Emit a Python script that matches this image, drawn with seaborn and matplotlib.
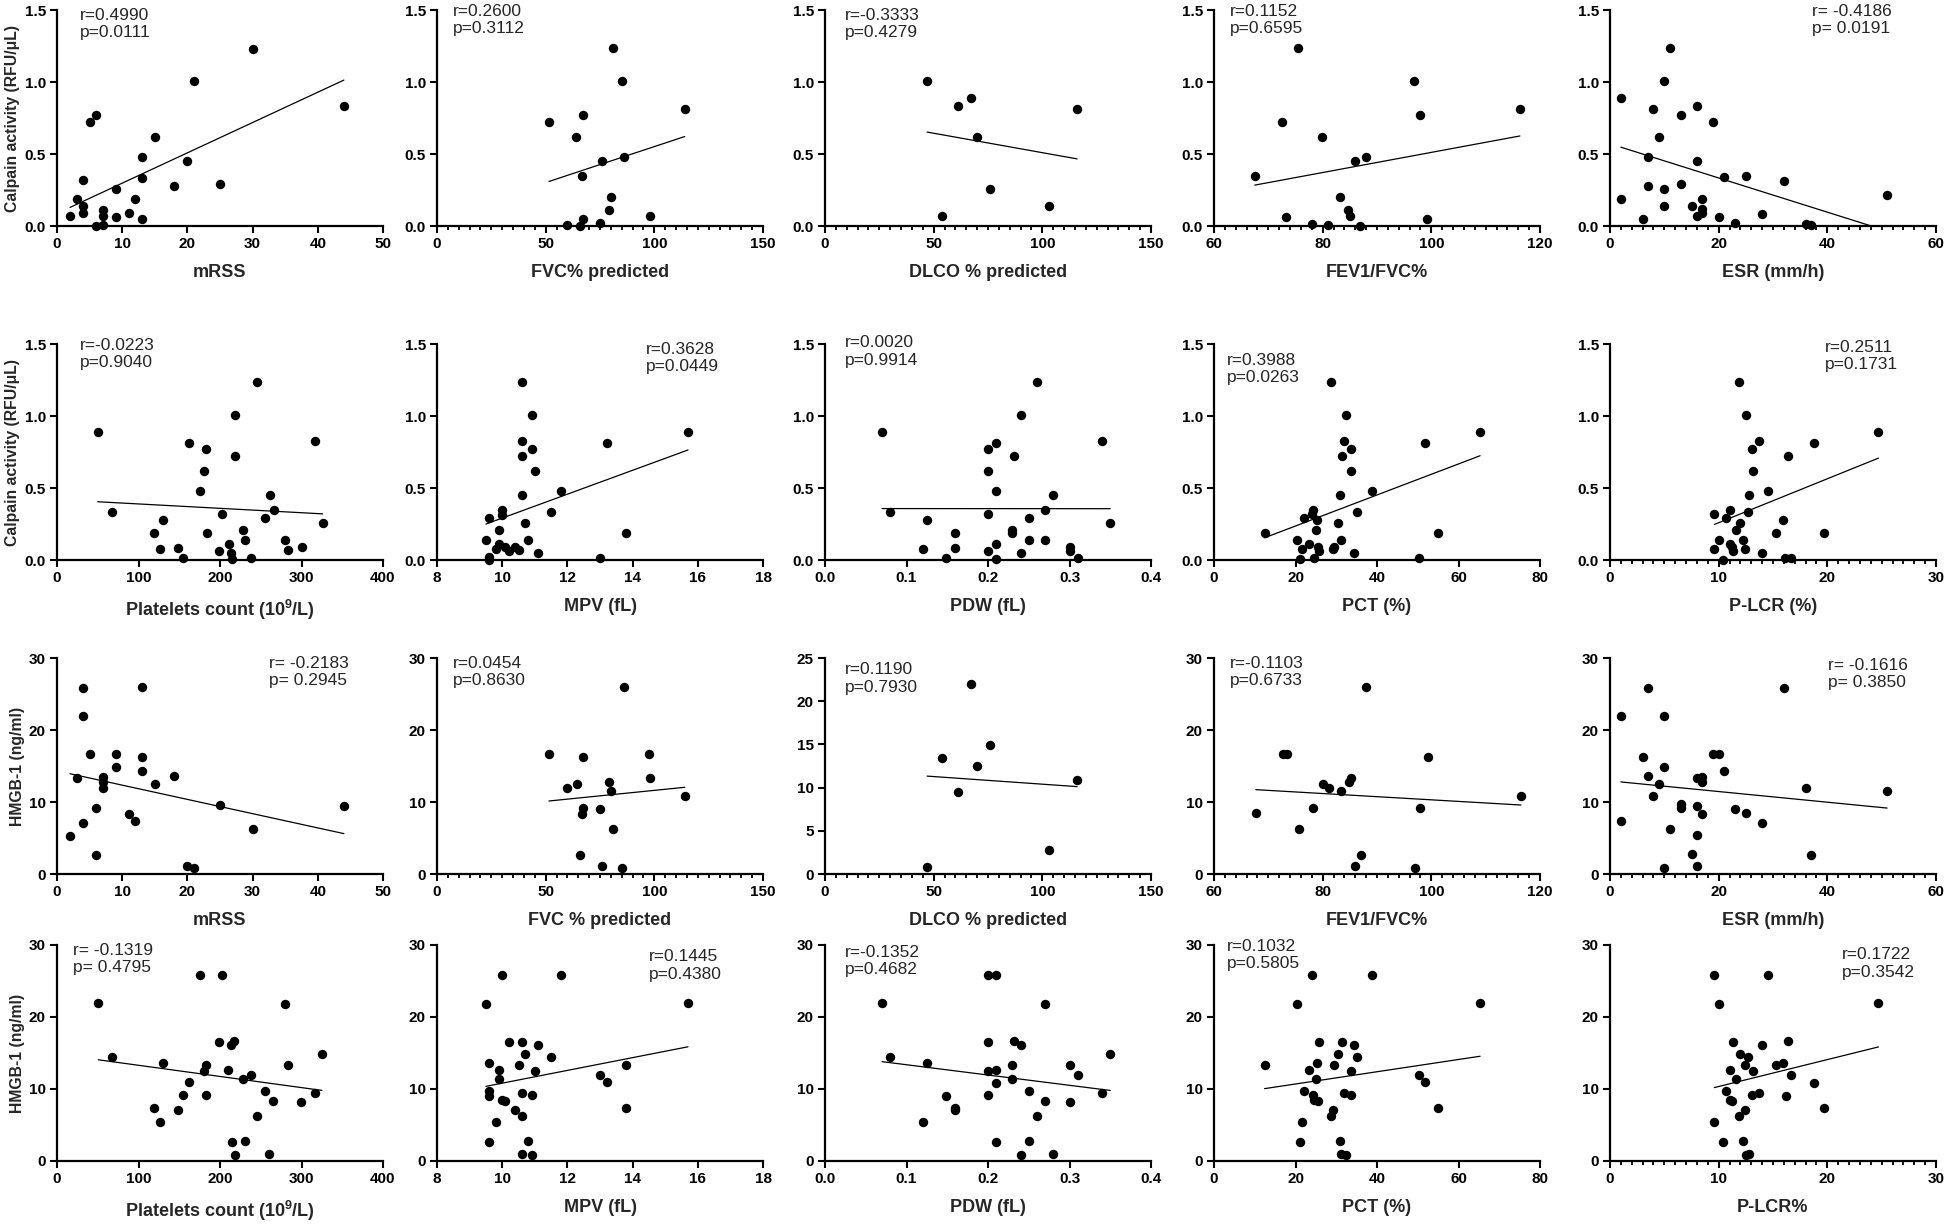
"""Calpain activity and HMGB-1 vs clinical / platelet parameters (4 x 5 scatter grid)."""
import matplotlib
matplotlib.use("Agg")
import matplotlib.pyplot as plt
import seaborn as sns
from matplotlib.ticker import MultipleLocator, FormatStrFormatter

# ---------------- data: row 1 (Calpain vs clinical) ----------------
mrss_calp_x = [2, 3, 4, 4, 4, 5, 6, 6, 7, 7, 7, 9, 9, 11, 12, 13, 13, 13, 15, 18, 20, 21, 25, 30, 44]
mrss_calp_y = [0.07, 0.19, 0.32, 0.14, 0.09, 0.72, 0.77, 0.00, 0.11, 0.07, 0.01, 0.26, 0.06, 0.09,
               0.19, 0.48, 0.33, 0.05, 0.62, 0.28, 0.45, 1.01, 0.29, 1.23, 0.83]

fvc_calp_x = [51.5, 64, 67, 66.5, 60, 66, 67, 75, 76, 79, 80, 81, 85, 86, 98, 114]
fvc_calp_y = [0.72, 0.62, 0.77, 0.35, 0.01, 0.00, 0.05, 0.02, 0.45, 0.11, 0.20, 1.235, 1.01, 0.48, 0.07, 0.81]

dlco_calp_x = [47, 54, 61, 67, 70, 76, 103, 116]
dlco_calp_y = [1.01, 0.07, 0.83, 0.89, 0.62, 0.26, 0.14, 0.81]

fev_calp_x = [67.5, 72.6, 73.3, 75.5, 78, 79.9, 81, 83.2, 84.7, 85.1, 85.9, 86.9, 87.9, 96.9, 98, 99.2, 116.3]
fev_calp_y = [0.345, 0.72, 0.06, 1.235, 0.015, 0.62, 0.01, 0.20, 0.11, 0.07, 0.45, 0.00, 0.48, 1.01, 0.77, 0.05, 0.81]

esr_calp_x = [2, 2, 6, 7, 7, 8, 9, 10, 10, 10, 11, 13, 13, 15, 16, 16, 16, 17, 17, 17,
              19, 20, 21, 23, 25, 28, 32, 36, 37, 51]
esr_calp_y = [0.89, 0.19, 0.05, 0.48, 0.28, 0.81, 0.62, 1.01, 0.255, 0.14, 1.235, 0.77, 0.29, 0.14,
              0.83, 0.45, 0.07, 0.185, 0.115, 0.09, 0.725, 0.06, 0.34, 0.02, 0.35, 0.085, 0.315,
              0.015, 0.005, 0.215]

# ---------------- data: row 2 (Calpain vs platelet indices) ----------------
plt_calp_x = [50, 68, 119, 126, 130, 149, 155, 162, 176, 180, 183, 184, 199, 203, 211, 214, 215,
              218, 218, 228, 231, 238, 245, 255, 261, 266, 280, 283, 300, 316, 326]
plt_calp_y = [0.89, 0.33, 0.19, 0.074, 0.28, 0.085, 0.016, 0.81, 0.48, 0.62, 0.77, 0.187, 0.062,
              0.32, 0.11, 0.05, 0.005, 1.01, 0.72, 0.21, 0.136, 0.012, 1.235, 0.29, 0.45, 0.346,
              0.136, 0.07, 0.09, 0.826, 0.256]

mpv_calp_x = [9.5, 9.6, 9.6, 9.6, 9.8, 9.9, 9.9, 10.0, 10.0, 10.1, 10.2, 10.4, 10.5, 10.6, 10.6,
              10.6, 10.6, 10.7, 10.8, 10.9, 10.9, 11.0, 11.1, 11.5, 11.8, 13.0, 13.2, 13.8, 15.7]
mpv_calp_y = [0.136, 0.29, 0.023, 0.0, 0.074, 0.21, 0.11, 0.35, 0.31, 0.088, 0.065, 0.088, 0.07,
              1.235, 0.826, 0.72, 0.45, 0.254, 0.136, 1.01, 0.77, 0.62, 0.046, 0.33, 0.48, 0.012,
              0.81, 0.187, 0.89]

pdw_calp_x = [0.07, 0.08, 0.12, 0.125, 0.148, 0.16, 0.16, 0.20, 0.20, 0.20, 0.20, 0.21, 0.21, 0.21,
              0.21, 0.23, 0.23, 0.232, 0.24, 0.24, 0.25, 0.25, 0.26, 0.27, 0.27, 0.28, 0.30, 0.30,
              0.31, 0.34, 0.35]
pdw_calp_y = [0.89, 0.33, 0.074, 0.28, 0.016, 0.19, 0.085, 0.77, 0.62, 0.32, 0.062, 0.81, 0.48,
              0.11, 0.005, 0.21, 0.187, 0.72, 1.01, 0.046, 0.29, 0.136, 1.235, 0.346, 0.136, 0.45,
              0.09, 0.065, 0.012, 0.826, 0.256]

pct_calp_x = [12.4, 20.3, 21.0, 21.5, 22.0, 23.4, 24.0, 24.3, 24.5, 25.0, 25.3, 25.4, 25.8, 28.8,
              29.2, 29.4, 30.4, 30.9, 31.2, 31.3, 31.9, 32.3, 33.5, 33.5, 34.4, 35.2, 38.8, 50.2,
              51.9, 55.0, 65.3]
pct_calp_y = [0.185, 0.136, 0.005, 0.074, 0.29, 0.11, 0.32, 0.35, 0.012, 0.21, 0.28, 0.088, 0.065,
              1.235, 0.074, 0.09, 0.256, 0.45, 0.136, 0.72, 0.826, 1.01, 0.77, 0.62, 0.046, 0.33,
              0.48, 0.012, 0.81, 0.19, 0.89]

plcr_calp_x = [9.6, 9.6, 10.0, 10.4, 10.7, 11.0, 11.0, 11.2, 11.3, 11.6, 11.9, 12.0, 12.2, 12.4,
               12.5, 12.7, 12.8, 13.1, 13.2, 13.7, 14.0, 14.5, 15.3, 15.9, 16.1, 16.4, 16.7, 18.8,
               19.7, 24.7]
plcr_calp_y = [0.316, 0.074, 0.136, 0.0, 0.29, 0.346, 0.11, 0.09, 0.065, 0.21, 1.235, 0.254, 0.136,
               0.074, 1.01, 0.33, 0.45, 0.77, 0.62, 0.826, 0.046, 0.48, 0.187, 0.28, 0.016, 0.72,
               0.012, 0.81, 0.19, 0.89]

# ---------------- data: row 3 (HMGB-1 vs clinical) ----------------
mrss_hmgb_x = [2, 3, 4, 4, 4, 5, 6, 6, 7, 7, 7, 9, 9, 11, 12, 13, 13, 13, 15, 18, 20, 21, 25, 30, 44]
mrss_hmgb_y = [5.3, 13.3, 25.8, 21.9, 7.1, 16.6, 9.2, 2.6, 13.5, 12.8, 11.9, 16.6, 14.9, 8.35, 7.3,
               26.0, 16.2, 14.35, 12.5, 13.6, 1.06, 0.83, 9.6, 6.3, 9.46]

fvc_hmgb_x = [51.5, 60, 64.2, 66, 66.5, 67, 67.2, 75.1, 76, 79.3, 80, 81, 85, 86, 97.6, 98, 114]
fvc_hmgb_y = [16.6, 11.9, 12.55, 2.6, 8.4, 16.2, 9.2, 9.05, 1.06, 12.8, 11.5, 6.3, 0.83, 26.0,
              16.6, 13.3, 10.85]

dlco_hmgb_x = [47, 54, 61, 67, 70, 76, 103, 116]
dlco_hmgb_y = [0.8, 13.4, 9.5, 22.0, 12.5, 14.9, 2.8, 10.9]

fev_hmgb_x = [67.7, 72.7, 73.4, 75.6, 78.2, 80, 81.1, 83.3, 84.8, 85.3, 86, 87, 88, 97, 98, 99.3, 116.5]
fev_hmgb_y = [8.45, 16.6, 16.6, 6.3, 9.1, 12.55, 11.9, 11.5, 12.8, 13.3, 1.06, 2.6, 26.0, 0.83,
              9.2, 16.2, 10.9]

esr_hmgb_x = [2, 2, 6, 7, 7, 8, 9, 10, 10, 10, 11, 13, 13, 15, 16, 16, 16, 16, 17, 17, 17,
              19, 20, 21, 23, 25, 28, 32, 36, 37, 51]
esr_hmgb_y = [22.0, 7.3, 16.2, 25.9, 13.6, 10.9, 12.55, 21.9, 14.9, 0.8, 6.3, 9.7, 9.2, 2.8, 13.3,
              9.46, 5.35, 1.06, 13.5, 12.8, 8.3, 16.6, 16.6, 14.35, 9.05, 8.45, 7.06, 25.8, 11.9,
              2.6, 11.5]

# ---------------- data: row 4 (HMGB-1 vs platelet indices) ----------------
plt_hmgb_x = [50.6, 68, 119, 126, 130, 149, 155, 162, 176, 180, 183, 183, 199, 202, 210, 214, 215,
              217, 218, 228, 231, 238, 245, 255, 260, 265, 280, 283, 299, 316, 325]
plt_hmgb_y = [22.0, 14.4, 7.3, 5.4, 13.55, 7.05, 9.1, 11.0, 25.9, 12.55, 13.4, 9.2, 16.55, 25.8,
              12.7, 16.1, 2.6, 16.6, 0.8, 11.4, 2.8, 11.9, 6.3, 9.7, 1.0, 8.4, 21.85, 13.3, 8.25,
              9.45, 14.9]

mpv_hmgb_x = [9.5, 9.6, 9.6, 9.6, 9.6, 9.8, 9.9, 9.9, 10.0, 10.0, 10.1, 10.2, 10.4, 10.5, 10.6,
              10.6, 10.6, 10.6, 10.7, 10.8, 10.9, 10.9, 11.0, 11.1, 11.5, 11.8, 13.0, 13.2, 13.8,
              13.8, 15.7]
mpv_hmgb_y = [21.8, 13.55, 9.7, 9.0, 2.6, 5.4, 12.7, 11.4, 25.8, 8.5, 8.3, 16.55, 7.05, 13.3,
              16.55, 9.45, 6.3, 1.0, 14.9, 2.8, 9.2, 0.8, 12.55, 16.1, 14.4, 25.9, 11.9, 11.0,
              13.3, 7.3, 22.0]

pdw_hmgb_x = [0.07, 0.08, 0.12, 0.125, 0.148, 0.16, 0.16, 0.20, 0.20, 0.20, 0.20, 0.21, 0.21, 0.21,
              0.21, 0.23, 0.23, 0.232, 0.24, 0.24, 0.25, 0.25, 0.26, 0.27, 0.27, 0.28, 0.30, 0.30,
              0.31, 0.34, 0.35]
pdw_hmgb_y = [22.0, 14.4, 5.4, 13.55, 9.0, 7.3, 7.05, 25.8, 16.55, 12.55, 9.1, 25.9, 12.7, 10.9,
              2.6, 13.3, 11.4, 16.6, 16.1, 0.8, 9.7, 2.8, 6.3, 21.85, 8.4, 1.0, 13.3, 8.25, 11.9,
              9.45, 14.9]

pct_hmgb_x = [12.4, 20.3, 21.0, 21.5, 22.0, 23.4, 24.0, 24.3, 24.5, 25.0, 25.3, 25.5, 25.8, 28.8,
              29.2, 29.4, 30.4, 31.0, 31.2, 31.3, 31.9, 32.3, 33.5, 33.5, 34.4, 35.2, 38.8, 50.2,
              51.9, 55.0, 65.3]
pct_hmgb_y = [13.3, 21.8, 2.6, 5.4, 9.7, 12.7, 25.8, 9.1, 8.5, 11.4, 13.55, 8.3, 16.55, 6.3, 7.05,
              13.3, 14.9, 2.8, 1.0, 16.55, 9.45, 0.8, 12.55, 9.2, 16.1, 14.4, 25.9, 11.9, 11.0,
              7.3, 22.0]

plcr_hmgb_x = [9.6, 9.6, 10.0, 10.4, 10.7, 11.0, 11.0, 11.2, 11.3, 11.6, 11.9, 12.0, 12.2, 12.4,
               12.4, 12.5, 12.7, 12.8, 13.1, 13.2, 13.7, 14.0, 14.5, 15.3, 15.9, 16.2, 16.4, 16.7,
               18.8, 19.7, 24.7]
plcr_hmgb_y = [25.8, 5.35, 21.8, 2.6, 9.7, 12.7, 8.5, 8.3, 16.55, 11.4, 6.3, 14.9, 2.8, 7.05, 13.3,
               0.8, 14.4, 1.0, 9.1, 12.55, 9.45, 16.1, 25.9, 13.3, 13.55, 9.0, 16.6, 11.9, 10.9,
               7.3, 22.0]

# ---------------- labels / stats text ----------------
stats_text = [
    "r=0.4990\np=0.0111", "r=0.2600\np=0.3112", "r=-0.3333\np=0.4279", "r=0.1152\np=0.6595",
    "r= -0.4186\np= 0.0191",
    "r=-0.0223\np=0.9040", "r=0.3628\np=0.0449", "r=0.0020\np=0.9914", "r=0.3988\np=0.0263",
    "r=0.2511\np=0.1731",
    "r= -0.2183\np= 0.2945", "r=0.0454\np=0.8630", "r=0.1190\np=0.7930", "r=-0.1103\np=0.6733",
    "r= -0.1616\np= 0.3850",
    "r= -0.1319\np= 0.4795", "r=0.1445\np=0.4380", "r=-0.1352\np=0.4682", "r=0.1032\np=0.5805",
    "r=0.1722\np=0.3542",
]
x_labels = [
    "mRSS", "FVC% predicted", "DLCO % predicted", "FEV1/FVC%", "ESR (mm/h)",
    "Platelets count (10$^9$/L)", "MPV (fL)", "PDW (fL)", "PCT (%)", "P-LCR (%)",
    "mRSS", "FVC % predicted", "DLCO % predicted", "FEV1/FVC%", "ESR (mm/h)",
    "Platelets count (10$^9$/L)", "MPV (fL)", "PDW (fL)", "PCT (%)", "P-LCR%",
]
y_labels = ["Calpain activity (RFU/μL)", "Calpain activity (RFU/μL)",
            "HMGB-1 (ng/ml)", "HMGB-1 (ng/ml)"]

SERIES = [
    (mrss_calp_x, mrss_calp_y), (fvc_calp_x, fvc_calp_y), (dlco_calp_x, dlco_calp_y),
    (fev_calp_x, fev_calp_y), (esr_calp_x, esr_calp_y),
    (plt_calp_x, plt_calp_y), (mpv_calp_x, mpv_calp_y), (pdw_calp_x, pdw_calp_y),
    (pct_calp_x, pct_calp_y), (plcr_calp_x, plcr_calp_y),
    (mrss_hmgb_x, mrss_hmgb_y), (fvc_hmgb_x, fvc_hmgb_y), (dlco_hmgb_x, dlco_hmgb_y),
    (fev_hmgb_x, fev_hmgb_y), (esr_hmgb_x, esr_hmgb_y),
    (plt_hmgb_x, plt_hmgb_y), (mpv_hmgb_x, mpv_hmgb_y), (pdw_hmgb_x, pdw_hmgb_y),
    (pct_hmgb_x, pct_hmgb_y), (plcr_hmgb_x, plcr_hmgb_y),
]

# x axis per column-variable: (lo, hi, major, minor, fmt)
X_AXIS = {
    "mRSS": (0, 50, 10, None, "%d"), "FVC": (0, 150, 50, 5, "%d"),
    "DLCO": (0, 150, 50, 5, "%d"), "FEV": (60, 120, 20, 2, "%d"),
    "ESR": (0, 60, 20, 2, "%d"), "PLT": (0, 400, 100, None, "%d"),
    "MPV": (8, 18, 2, None, "%d"), "PDW": (0, 0.4, 0.1, None, "%.1f"),
    "PCT": (0, 80, 20, None, "%d"), "PLCR": (0, 30, 10, 1, "%d"),
}
X_KEYS = ["mRSS", "FVC", "DLCO", "FEV", "ESR", "PLT", "MPV", "PDW", "PCT", "PLCR"] * 2

# text anchor (axes fraction, left / top) per panel
TEXT_POS = [
    (0.07, 1.01), (0.05, 1.03), (0.06, 1.01), (0.05, 1.03), (0.62, 1.03),
    (0.07, 1.03), (0.64, 1.01), (0.06, 1.04), (0.04, 0.96), (0.66, 1.02),
    (0.65, 1.01), (0.05, 1.01), (0.06, 0.98), (0.05, 1.01), (0.67, 1.00),
    (0.05, 1.01), (0.65, 0.98), (0.06, 1.00), (0.04, 1.03), (0.71, 0.99),
]

# layout in pixels of the 1946 x 1225 canvas
W, H = 1946, 1225
COL_LEFT = [57, 437, 825, 1214, 1610]
ROW_BOTTOM = [226, 560, 874, 1161]
AX_W, AX_H = 326, 216

FONT = ["Liberation Sans", "DejaVu Sans"]

sns.set_theme(style="ticks")
plt.rcParams.update({
    "font.family": FONT,
    "font.weight": "bold",
    "mathtext.default": "regular",
    "axes.linewidth": 1.6,
    "axes.edgecolor": "black",
    "xtick.color": "black",
    "ytick.color": "black",
})

fig = plt.figure(figsize=(W / 100, H / 100), dpi=100)

for i, (xs, ys) in enumerate(SERIES):
    row, col = divmod(i, 5)
    left = COL_LEFT[col] / W
    bottom = (H - ROW_BOTTOM[row]) / H
    ax = fig.add_axes([left, bottom, AX_W / W, AX_H / H])

    sns.regplot(x=xs, y=ys, ax=ax, ci=None, truncate=True,
                scatter_kws=dict(s=46, color="black", alpha=1, linewidths=0,
                                 clip_on=False, zorder=4),
                line_kws=dict(color="black", lw=0.9))
    sns.despine(ax=ax)

    lo, hi, major, minor, fmt = X_AXIS[X_KEYS[i]]
    ax.set_xlim(lo, hi)
    ax.xaxis.set_major_locator(MultipleLocator(major))
    ax.xaxis.set_major_formatter(FormatStrFormatter(fmt))
    if minor:
        ax.xaxis.set_minor_locator(MultipleLocator(minor))

    if row < 2:
        ax.set_ylim(0, 1.5)
        ax.yaxis.set_major_locator(MultipleLocator(0.5))
        ax.yaxis.set_major_formatter(FormatStrFormatter("%.1f"))
    else:
        top = 25 if (row, col) == (2, 2) else 30
        ax.set_ylim(0, top)
        ax.yaxis.set_major_locator(MultipleLocator(5 if top == 25 else 10))
        ax.yaxis.set_major_formatter(FormatStrFormatter("%d"))

    ax.tick_params(which="major", length=5, width=1.5, labelsize=11, pad=3)
    ax.tick_params(which="minor", length=3, width=1.3)
    for lab in ax.get_xticklabels() + ax.get_yticklabels():
        lab.set_fontweight("bold")

    ax.set_xlabel(x_labels[i], fontsize=13, fontweight="bold", labelpad=9)
    if col == 0:
        ax.set_ylabel(y_labels[row], fontsize=11.3, fontweight="bold", labelpad=3)
    else:
        ax.set_ylabel("")

    tx, ty = TEXT_POS[i]
    ax.text(tx, ty, stats_text[i], transform=ax.transAxes, ha="left", va="top",
            fontsize=12.5, fontweight="normal", linespacing=1.2)

fig.savefig("out.png", dpi=100, facecolor="white")
